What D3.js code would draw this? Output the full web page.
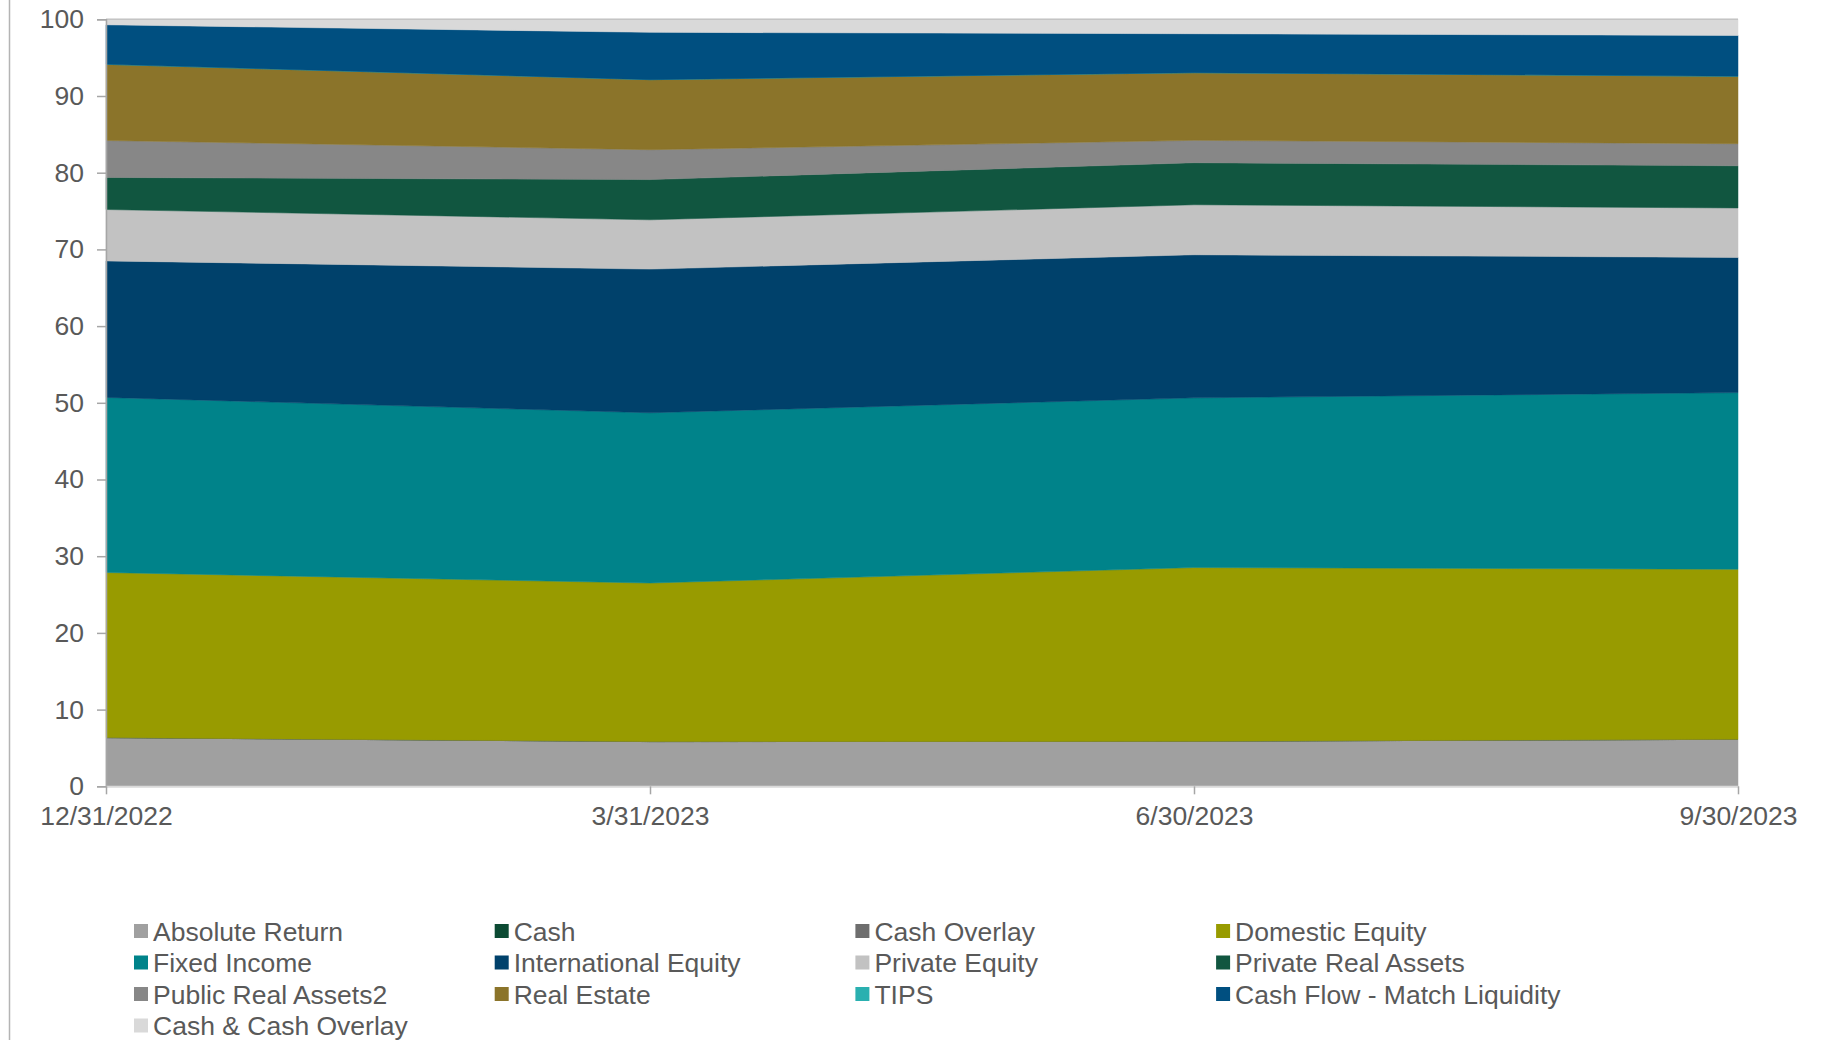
<!DOCTYPE html>
<html>
<head>
<meta charset="utf-8">
<script src="https://cdn.jsdelivr.net/npm/d3@7"></script>
<style>
    body { margin: 0; background: #ffffff; }
    svg { display: block; }
    text { font-family: "Liberation Sans", Arial, sans-serif; }
</style>
</head>
<body>
<svg id="grafico" width="1824" height="1040"></svg>
<script>
// datas do eixo x
const datas = ["12/31/2022", "3/31/2023", "6/30/2023", "9/30/2023"];

// series (ordem de empilhamento, de baixo para cima)
const series = [
    "Absolute Return", "Cash", "Cash Overlay", "Domestic Equity", "Fixed Income",
    "International Equity", "Private Equity", "Private Real Assets", "Public Real Assets2",
    "Real Estate", "TIPS", "Cash Flow - Match Liquidity", "Cash & Cash Overlay"
];

const absoluteReturn = [6.35, 5.83, 5.87, 6.13];
const cash = [0, 0, 0, 0];
const cashOverlay = [0, 0, 0, 0];
const domesticEquity = [21.52, 20.67, 22.65, 22.17];
const fixedIncome = [22.83, 22.2, 22.13, 23.03];
const internationalEquity = [17.8, 18.73, 18.65, 17.63];
const privateEquity = [6.7, 6.43, 6.52, 6.44];
const privateRealAssets = [4.18, 5.24, 5.48, 5.5];
const publicRealAssets2 = [4.82, 3.9, 2.92, 2.88];
const realEstate = [9.93, 9.13, 8.82, 8.79];
const tips = [0, 0, 0, 0];
const cashFlowMatch = [5.15, 6.17, 5.08, 5.33];
const cashCashOverlay = [0.72, 1.7, 1.88, 2.1];

const valoresSeries = [
    absoluteReturn, cash, cashOverlay, domesticEquity, fixedIncome,
    internationalEquity, privateEquity, privateRealAssets, publicRealAssets2,
    realEstate, tips, cashFlowMatch, cashCashOverlay
];

const cores = [
    "#a0a0a0", "#0c4a33", "#6e6e6e", "#989b00", "#00838a",
    "#00416b", "#c2c2c2", "#115640", "#878787",
    "#8b742a", "#2ab0b0", "#004f80", "#d9d9d9"
];

const yTicks = [0, 10, 20, 30, 40, 50, 60, 70, 80, 90, 100];

// tabela para o d3.stack
const tabela = datas.map(function (d, i) {
    const linha = { data: d };
    series.forEach(function (s, j) { linha[s] = valoresSeries[j][i]; });
    return linha;
});

const svg = d3.select("#grafico");
const esquerda = 106, direita = 1738, topo = 19.3, base = 786.3;
const corTexto = "#595959";
const tamFonte = "26.5px";

const x = d3.scalePoint().domain(datas).range([esquerda, direita]);
const y = d3.scaleLinear().domain([0, 100]).range([base, topo]);

// borda esquerda da area do grafico
svg.append("line")
    .attr("x1", 9.5).attr("x2", 9.5)
    .attr("y1", 0).attr("y2", 1040)
    .attr("stroke", "#b4b4b4")
    .attr("stroke-width", 1.5);

const pilha = d3.stack().keys(series)(tabela);

const area = d3.area()
    .x(function (d) { return x(d.data.data); })
    .y0(function (d) { return y(d[0]); })
    .y1(function (d) { return y(d[1]); });

svg.append("g")
    .selectAll("path")
    .data(pilha)
    .enter()
    .append("path")
    .attr("d", area)
    .attr("fill", function (d, i) { return cores[i]; })
    .attr("stroke", function (d, i) { return cores[i]; })
    .attr("stroke-width", 0.5);

// linha superior
svg.append("path")
    .datum(pilha[pilha.length - 1])
    .attr("d", d3.line()
        .x(function (d) { return x(d.data.data); })
        .y(function (d) { return y(d[1]); }))
    .attr("fill", "none")
    .attr("stroke", "#c4c4c4")
    .attr("stroke-width", 1.5);

// eixo y
const eixoY = svg.append("g")
    .attr("transform", "translate(" + esquerda + ",0)")
    .call(d3.axisLeft(y).tickValues(yTicks).tickSize(9).tickPadding(13).tickFormat(d3.format("d")));
eixoY.select(".domain").attr("stroke", "#a6a6a6").attr("stroke-width", 1.5);
eixoY.selectAll(".tick line").attr("stroke", "#a6a6a6").attr("stroke-width", 1.5);
eixoY.selectAll("text")
    .attr("fill", corTexto)
    .style("font-size", tamFonte)
    .attr("font-family", null);

// eixo x
const eixoX = svg.append("g")
    .attr("transform", "translate(0," + base + ")")
    .call(d3.axisBottom(x).tickSize(8).tickPadding(12).tickSizeOuter(0));
eixoX.select(".domain").attr("stroke", "#d9d9d9").attr("stroke-width", 2);
eixoX.selectAll(".tick line").attr("stroke", "#a6a6a6").attr("stroke-width", 1.5);
eixoX.selectAll("text")
    .attr("fill", corTexto)
    .style("font-size", tamFonte)
    .attr("font-family", null);

// legenda
const legenda = svg.append("g").attr("id", "legenda");
const itens = legenda.selectAll("g.itemLegenda")
    .data(series)
    .enter()
    .append("g")
    .attr("class", "itemLegenda")
    .attr("transform", function (d, i) {
        return "translate(" + (134 + (i % 4) * 360.7) + "," + (924 + Math.floor(i / 4) * 31.5) + ")";
    });

itens.append("rect")
    .attr("width", 14)
    .attr("height", 14)
    .attr("fill", function (d, i) { return cores[i]; });

itens.append("text")
    .attr("x", 19)
    .attr("y", 16.5)
    .attr("fill", corTexto)
    .style("font-size", tamFonte)
    .text(function (d) { return d; });
</script>
</body>
</html>
